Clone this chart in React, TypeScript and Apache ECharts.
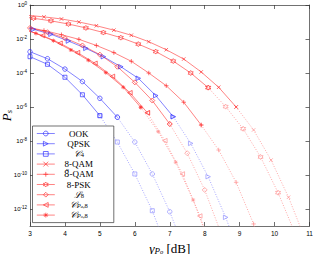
import React, { useEffect, useRef } from 'react';
import * as echarts from 'echarts';

// ---- data (x in dB, y = symbol error probability) ----
const OOK_X = [3, 3.5, 4, 4.5, 5, 5.5, 6, 6.5, 7, 7.5];
const OOK_P = [1.78e-3, 6.92e-4, 1.7e-4, 3.16e-5, 3.24e-6, 2.51e-7, 8.71e-9, 1.15e-10, 6.92e-13, 1.58e-15];
const OOK_SOLID = 6;

const QPSK_X = [2.6, 3.1, 3.6, 4.1, 4.6, 5.1, 5.6, 6.1, 6.6, 7.1, 7.6, 8.1, 8.6, 9.1];
const QPSK_P = [6.31e-2, 3.72e-2, 1.91e-2, 7.59e-3, 2.82e-3, 9.12e-4, 2.34e-4, 4.9e-5, 4.68e-6, 2.69e-7, 7.24e-9, 7.94e-11, 3.24e-13, 6.31e-16];
const QPSK_SOLID = 10;

const C4_X = [3, 3.5, 4, 4.5, 5, 5.5, 6, 6.5, 7];
const C4_P = [9.12e-4, 3.24e-4, 5.62e-5, 5.25e-6, 3.09e-7, 8.71e-9, 1.15e-10, 7.94e-13, 1.58e-15];
const C4_SOLID = 5;

const QAM8_X = [2.9, 3.4, 3.9, 4.4, 4.9, 5.4, 5.9, 6.4, 6.9, 7.4, 7.9, 8.4, 8.9, 9.4, 9.9, 10.4, 10.9];
const QAM8_P = [2.51e-1, 2.0e-1, 1.51e-1, 1.0e-1, 6.03e-2, 3.31e-2, 1.66e-2, 6.92e-3, 2.34e-3, 6.61e-4, 1.15e-4, 1.45e-5, 1.0e-6, 4.47e-8, 7.59e-10, 4.9e-12, 1.26e-14];
const QAM8_SOLID = 13;

const QAM8T_X = [2.9, 3.4, 3.9, 4.4, 4.9, 5.4, 5.9, 6.4, 6.9, 7.4, 7.9, 8.4, 8.9, 9.4, 9.9];
const QAM8T_P = [5.01e-2, 3.16e-2, 1.78e-2, 9.55e-3, 4.17e-3, 1.58e-3, 4.9e-4, 1.0e-4, 1.78e-5, 1.91e-6, 8.71e-8, 2.95e-9, 3.72e-11, 1.32e-13, 1.58e-16];
const QAM8T_SOLID = 11;

const PSK8_X = [2.6, 3.1, 3.6, 4.1, 4.6, 5.1, 5.6, 6.1, 6.6, 7.1, 7.6, 8.1, 8.6, 9.1, 9.6, 10.1, 10.6];
const PSK8_P = [2.24e-1, 1.66e-1, 1.17e-1, 7.59e-2, 4.47e-2, 2.4e-2, 1.2e-2, 5.01e-3, 1.82e-3, 5.01e-4, 1.0e-4, 1.38e-5, 1.05e-6, 5.25e-8, 1.15e-9, 9.12e-12, 3.16e-14];
const PSK8_SOLID = 12;

const L8_X = [3, 3.5, 4, 4.5, 5, 5.5, 6, 6.5, 7, 7.5, 8, 8.5];
const L8_P = [4.47e-2, 2.51e-2, 1.12e-2, 4.17e-3, 1.2e-3, 2.34e-4, 2.82e-5, 2.4e-6, 1.0e-7, 1.91e-9, 1.32e-11, 2.51e-14];
const L8_SOLID = 9;

const CPA_X = [2.86, 3.36, 3.86, 4.36, 4.86, 5.36, 5.86, 6.36, 6.86, 7.36, 7.86, 8.36];
const CPA_P = [3.55e-2, 1.58e-2, 5.62e-3, 1.58e-3, 3.72e-4, 6.31e-5, 6.92e-6, 4.57e-7, 1.05e-8, 1.15e-10, 3.89e-13, 5.01e-16];
const CPA_SOLID = 8;

const CPO_X = [2.67, 3.17, 3.67, 4.17, 4.67, 5.17, 5.67, 6.17, 6.67, 7.17, 7.67, 8.17];
const CPO_P = [5.01e-2, 2.14e-2, 7.94e-3, 2.24e-3, 5.62e-4, 1.05e-4, 1.45e-5, 9.55e-7, 3.55e-8, 5.62e-10, 3.39e-12, 6.31e-15];
const CPO_SOLID = 8;

const X_MIN = 3;
const X_MAX = 11;
const Y_MIN = 1e-13;
const Y_MAX = 1;
const Y_TICKS = [1, 1e-2, 1e-4, 1e-6, 1e-8, 1e-10, 1e-12];

// ---- styles ----
const BLUE = '#3030ff';
const RED = '#ff3030';
const BLUE_D = '#9090ff';
const RED_D = '#ff9090';

const SYM_CIRCLE = 'circle';
const SYM_RECT = 'rect';
const SYM_DIAMOND = 'diamond';
const SYM_TRI_R = 'path://M0,0L10,5L0,10Z';
const SYM_TRI_L = 'path://M10,0L0,5L10,10Z';
const SYM_X = 'path://M0,0L10,10M10,0L0,10';
const SYM_PLUS = 'path://M5,0L5,10M0,5L10,5';
const SYM_STAR = 'path://M5,0L5,10M0,5L10,5M1.5,1.5L8.5,8.5M8.5,1.5L1.5,8.5';
const SYM_HEX =
  'path://M5,0L6.44,2.5L9.33,2.5L7.89,5L9.33,7.5L6.44,7.5L5,10L3.56,7.5L0.67,7.5L2.11,5L0.67,2.5L3.56,2.5Z';

type Spec = {
  name: string;
  label: string;
  xs: number[];
  ps: number[];
  solid: number;
  color: string;
  dcolor: string;
  symbol: string;
  size: number;
};

const SPECS: Spec[] = [
  { name: 'OOK', label: '{c|OOK}', xs: OOK_X, ps: OOK_P, solid: OOK_SOLID, color: BLUE, dcolor: BLUE_D, symbol: SYM_CIRCLE, size: 4.5 },
  { name: 'QPSK', label: '{c|QPSK}', xs: QPSK_X, ps: QPSK_P, solid: QPSK_SOLID, color: BLUE, dcolor: BLUE_D, symbol: SYM_TRI_R, size: 4.5 },
  { name: 'C4', label: '{m|𝒞}{sb|4}', xs: C4_X, ps: C4_P, solid: C4_SOLID, color: BLUE, dcolor: BLUE_D, symbol: SYM_RECT, size: 4 },
  { name: '8-QAM', label: '{c|8-QAM}', xs: QAM8_X, ps: QAM8_P, solid: QAM8_SOLID, color: RED, dcolor: RED_D, symbol: SYM_X, size: 3.5 },
  { name: '8t-QAM', label: '{t8|8\u0303}{c|-QAM}', xs: QAM8T_X, ps: QAM8T_P, solid: QAM8T_SOLID, color: RED, dcolor: RED_D, symbol: SYM_PLUS, size: 4.5 },
  { name: '8-PSK', label: '{c|8-PSK}', xs: PSK8_X, ps: PSK8_P, solid: PSK8_SOLID, color: RED, dcolor: RED_D, symbol: SYM_HEX, size: 5 },
  { name: 'L8', label: '{m|ℒ}{sb|8}', xs: L8_X, ps: L8_P, solid: L8_SOLID, color: RED, dcolor: RED_D, symbol: SYM_DIAMOND, size: 5 },
  { name: 'CPa8', label: '{m|𝒞}{sp|P}{ssb|a}{sb|,8}', xs: CPA_X, ps: CPA_P, solid: CPA_SOLID, color: RED, dcolor: RED_D, symbol: SYM_TRI_L, size: 4.5 },
  { name: 'CPo8', label: '{m|𝒞}{sp|P}{ssb|o}{sb|,8}', xs: CPO_X, ps: CPO_P, solid: CPO_SOLID, color: RED, dcolor: RED_D, symbol: SYM_STAR, size: 4 },
];

const pts = (xs: number[], ps: number[], from: number, to: number) =>
  xs.slice(from, to).map((x, i) => [x, ps[from + i]]);

const SERIF = '"Liberation Serif", "DejaVu Serif", serif';
const SANS = '"Liberation Sans", Arial, sans-serif';
const LW = 0.6;

function buildOption() {
  const series: any[] = [];
  SPECS.forEach((s) => {
    const common = {
      type: 'line',
      symbol: s.symbol,
      symbolSize: s.size,
      showSymbol: true,
      clip: true,
      silent: true,
      emphasis: { disabled: true },
    };
    series.push({
      ...common,
      name: s.name + '_dotted',
      data: pts(s.xs, s.ps, s.solid - 1, s.xs.length),
      itemStyle: { color: 'rgba(0,0,0,0)', borderColor: s.dcolor, borderWidth: 0.7 },
      lineStyle: { color: s.dcolor, width: 0.8, type: [1, 1.6] },
      z: 2,
    });
    series.push({
      ...common,
      name: s.name,
      data: pts(s.xs, s.ps, 0, s.solid),
      itemStyle: { color: 'rgba(0,0,0,0)', borderColor: s.color, borderWidth: 0.7 },
      lineStyle: { color: s.color, width: LW },
      z: 3,
    });
  });

  const labelMap: Record<string, string> = {};
  SPECS.forEach((s) => (labelMap[s.name] = s.label));

  const axisLine = { show: true, lineStyle: { color: '#333', width: 0.7 } };
  const tick = { show: true, inside: true, length: 4, lineStyle: { color: '#333', width: 0.7 } };

  const yLog = {
    type: 'log',
    min: Y_MIN,
    max: Y_MAX,
    splitLine: { show: false },
    minorTick: { show: false },
    axisLine,
    axisTick: { ...tick, customValues: Y_TICKS },
  };

  return {
    animation: false,
    backgroundColor: '#fff',
    grid: { left: 30, right: 3.5, top: 5, bottom: 28, containLabel: false, outerBoundsMode: 'none' },
    xAxis: [
      {
        type: 'value',
        min: X_MIN,
        max: X_MAX,
        interval: 1,
        position: 'bottom',
        splitLine: { show: false },
        axisLine,
        axisTick: tick,
        axisLabel: { fontSize: 6.5, color: '#000', fontFamily: SANS, margin: 4, hideOverlap: false },
        name: '{g|γ}{sp|P}{ssb|o}{t| [dB]}',
        nameLocation: 'middle',
        nameGap: 15,
        nameMoveOverlap: false,
        nameTextStyle: {
          rich: {
            g: { fontFamily: SERIF, fontStyle: 'italic', fontSize: 13.5, lineHeight: 14, color: '#000' },
            sp: { fontFamily: SERIF, fontStyle: 'italic', fontSize: 9, lineHeight: 8, verticalAlign: 'bottom', color: '#000' },
            ssb: { fontFamily: SERIF, fontStyle: 'italic', fontSize: 6.5, lineHeight: 4, verticalAlign: 'bottom', color: '#000' },
            t: { fontFamily: SERIF, fontSize: 13, lineHeight: 14, color: '#000' },
          },
        },
      },
      {
        type: 'value',
        min: X_MIN,
        max: X_MAX,
        interval: 1,
        position: 'top',
        splitLine: { show: false },
        axisLine,
        axisTick: tick,
        axisLabel: { show: false },
      },
    ],
    yAxis: [
      {
        ...yLog,
        position: 'left',
        axisLabel: {
          customValues: Y_TICKS,
          margin: 3,
          hideOverlap: false,
          formatter: (v: number) => `{b|10}{e|${Math.round(Math.log10(v))}}`,
          rich: {
            b: { fontFamily: SANS, fontSize: 6, lineHeight: 9, color: '#000' },
            e: { fontFamily: SANS, fontSize: 4.5, lineHeight: 5, verticalAlign: 'top', color: '#000' },
          },
        },
        name: '{p|P}{s|s}',
        nameLocation: 'middle',
        nameGap: 17,
        nameMoveOverlap: false,
        nameTextStyle: {
          rich: {
            p: { fontFamily: SERIF, fontStyle: 'italic', fontSize: 13, lineHeight: 14, color: '#000' },
            s: { fontFamily: SERIF, fontStyle: 'italic', fontSize: 8.5, lineHeight: 7, verticalAlign: 'bottom', color: '#000' },
          },
        },
      },
      { ...yLog, position: 'right', axisLabel: { show: false } },
    ],
    legend: {
      data: SPECS.map((s) => ({
        name: s.name,
        itemStyle: { color: 'rgba(0,0,0,0)', borderColor: s.color, borderWidth: 0.7 },
        lineStyle: { color: s.color, width: LW },
      })),
      orient: 'vertical',
      left: 32.5,
      top: 126,
      padding: [3, 16, 3, 4],
      itemGap: 1.2,
      itemWidth: 18,
      itemHeight: 6,
      backgroundColor: '#fff',
      borderColor: '#333',
      borderWidth: 0.7,
      selectedMode: false,
      formatter: (n: string) => labelMap[n],
      textStyle: {
        width: 38,
        fontSize: 9,
        lineHeight: 8,
        fontFamily: SERIF,
        rich: {
          c: { fontFamily: SERIF, fontSize: 9, lineHeight: 8, align: 'center', color: '#000' },
          t8: { fontFamily: '"DejaVu Serif", serif', fontSize: 8.5, lineHeight: 8, align: 'center', color: '#000' },
          m: { fontFamily: SERIF, fontStyle: 'italic', fontSize: 9, lineHeight: 8, align: 'center', color: '#000' },
          sb: { fontFamily: SERIF, fontSize: 6.5, lineHeight: 4, verticalAlign: 'bottom', align: 'center', color: '#000' },
          sp: { fontFamily: SERIF, fontStyle: 'italic', fontSize: 6.5, lineHeight: 4, verticalAlign: 'bottom', align: 'center', color: '#000' },
          ssb: { fontFamily: SERIF, fontStyle: 'italic', fontSize: 4.5, lineHeight: 1, verticalAlign: 'bottom', align: 'center', color: '#000' },
        },
      },
    },
    series,
  };
}

export default function App() {
  const ref = useRef<HTMLDivElement>(null);
  useEffect(() => {
    if (!ref.current) return;
    const chart = echarts.init(ref.current, undefined, { renderer: 'svg' });
    chart.setOption(buildOption() as any);
    return () => chart.dispose();
  }, []);
  return (
    <div
      ref={ref}
      style={{ position: 'fixed', left: 0, top: 0, width: 313, height: 254, background: '#fff' }}
    />
  );
}
